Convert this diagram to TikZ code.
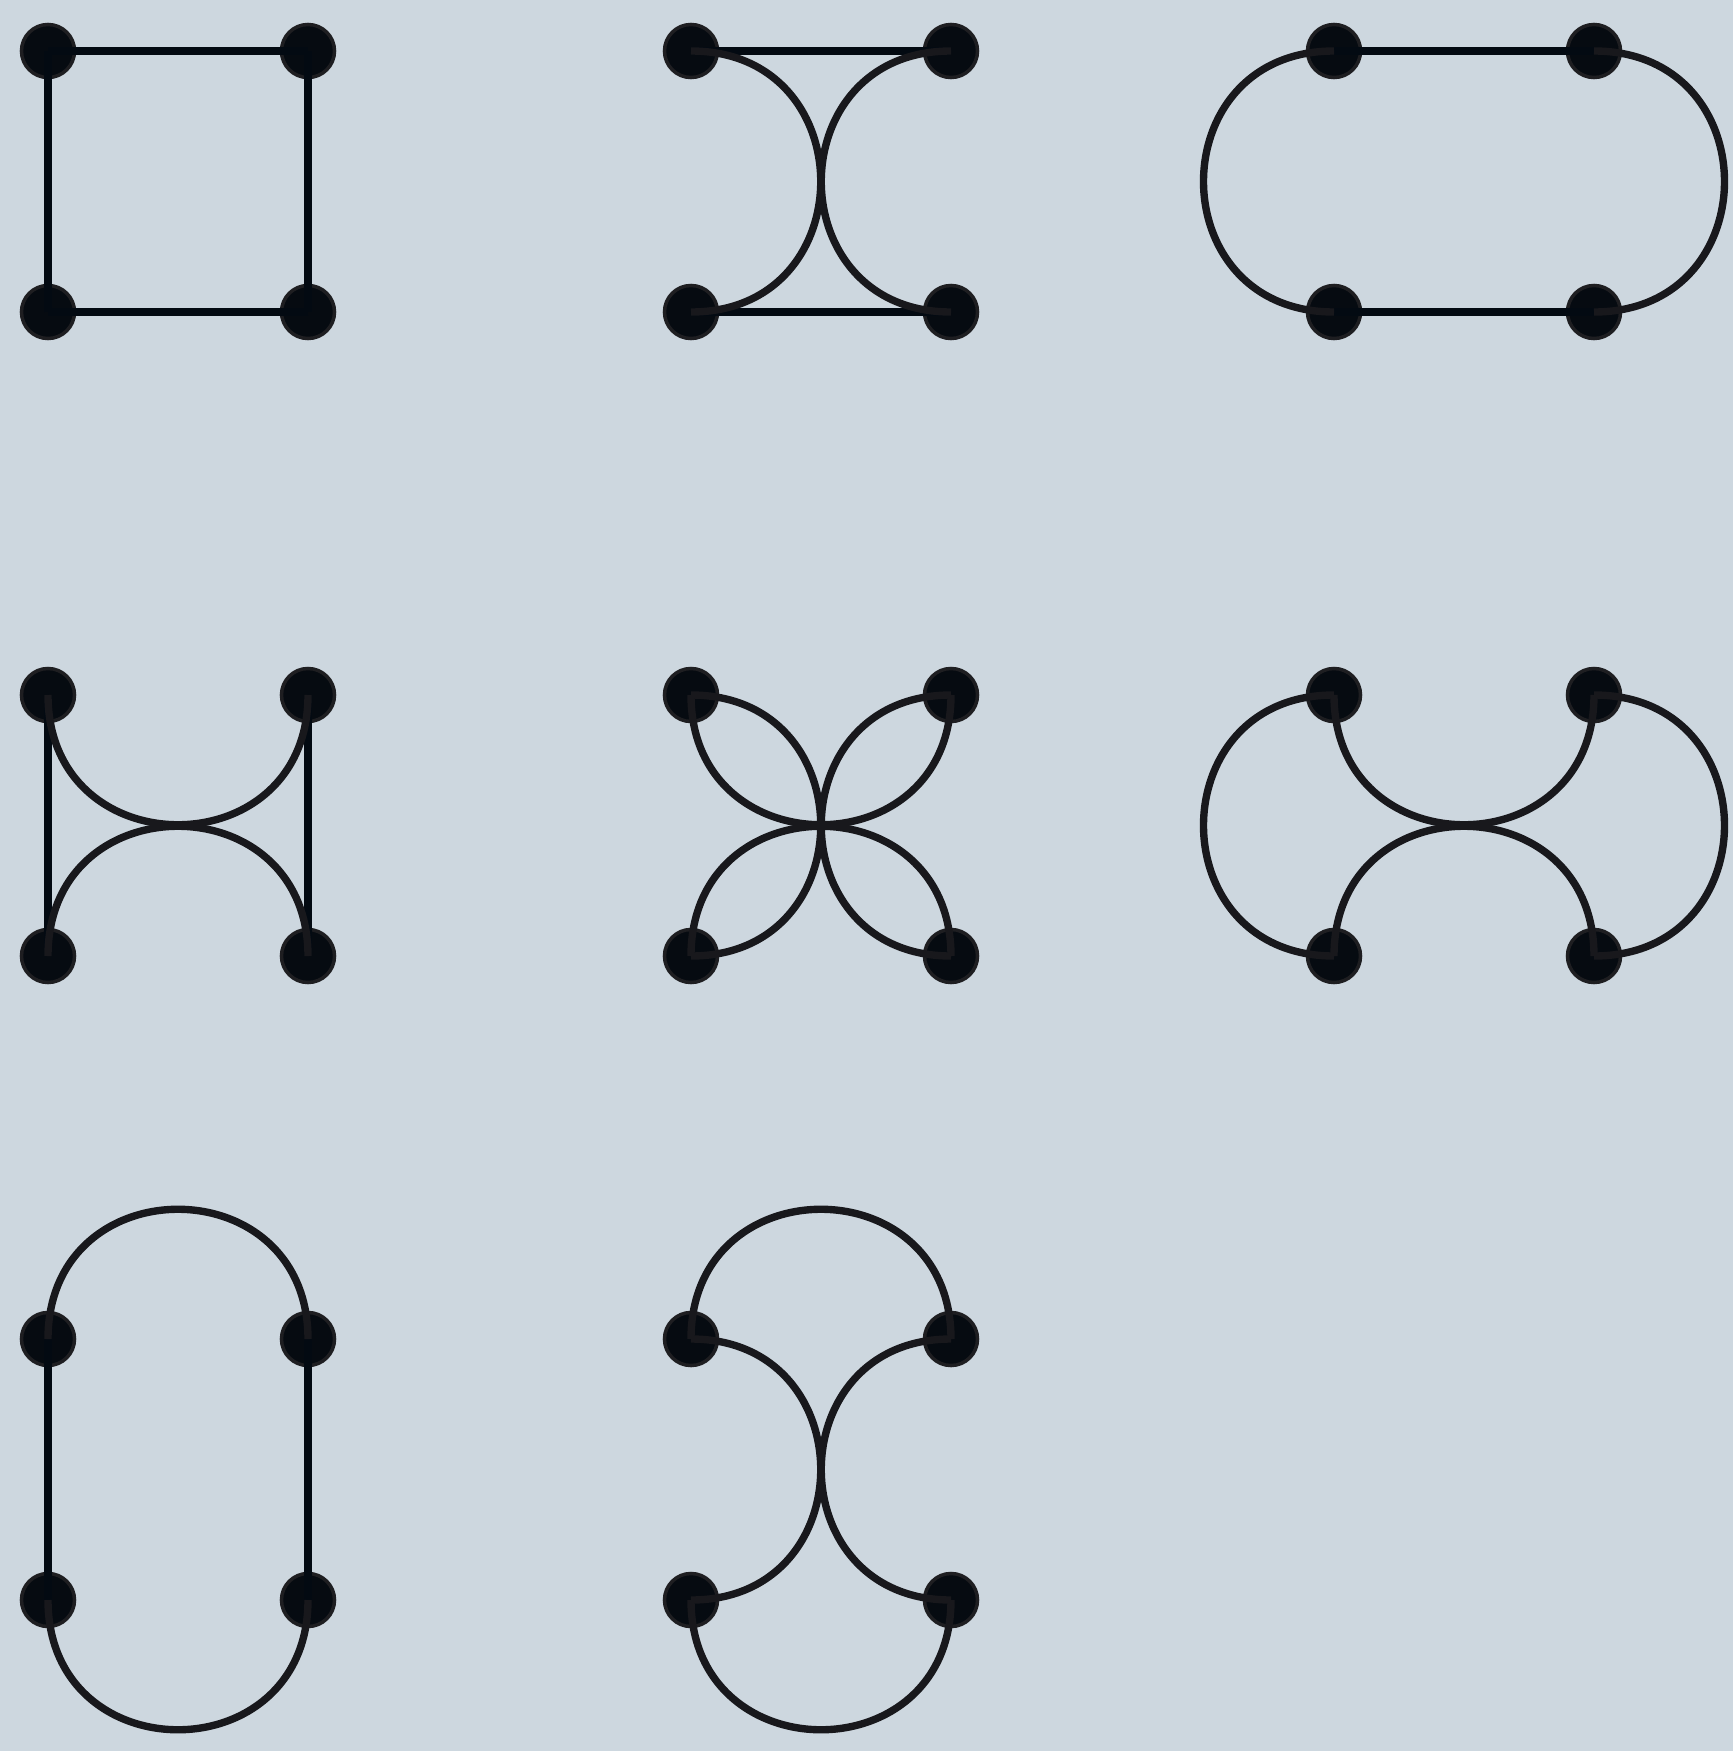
\documentclass[tikz,border=0pt]{standalone}
\definecolor{bg}{RGB}{205,215,223}
\definecolor{dotc}{RGB}{6,11,17}
\definecolor{dotrim}{RGB}{30,30,33}
\definecolor{linec}{RGB}{3,10,18}
\definecolor{curvec}{RGB}{24,24,28}
\begin{document}
\begin{tikzpicture}[x=0.01cm,y=-0.01cm,
  dot/.style={circle,fill=dotc,draw=dotrim,line width=1pt,minimum size=0.53cm,inner sep=0pt},
  edge/.style={draw=linec,line width=2.4pt},
  arcedge/.style={draw=curvec,line width=2.1pt}]
\fill[bg] (0,0) rectangle (1733,1751);
\useasboundingbox (0,0) rectangle (1733,1751);
\foreach \n/\x/\y in {1/48/51,2/691/51,3/1334/51,4/48/695,5/691/695,6/1334/695,7/48/1339,8/691/1339}{
  \node[dot] (p\n a) at (\x,\y) {};
  \node[dot] (p\n b) at (\x+260,\y) {};
  \node[dot] (p\n c) at (\x,\y+261) {};
  \node[dot] (p\n d) at (\x+260,\y+261) {};
}
% panel 1: square
\draw[edge] (p1a.center) -- (p1b.center);
\draw[edge] (p1b.center) -- (p1d.center);
\draw[edge] (p1d.center) -- (p1c.center);
\draw[edge] (p1c.center) -- (p1a.center);
% panel 2
\draw[edge] (p2a.center) -- (p2b.center);
\draw[edge] (p2c.center) -- (p2d.center);
\draw[arcedge] (p2a.center) .. controls +(173,0) and +(173,0) .. (p2c.center);
\draw[arcedge] (p2b.center) .. controls +(-173,0) and +(-173,0) .. (p2d.center);
% panel 3
\draw[edge] (p3a.center) -- (p3b.center);
\draw[edge] (p3c.center) -- (p3d.center);
\draw[arcedge] (p3a.center) .. controls +(-174,0) and +(-174,0) .. (p3c.center);
\draw[arcedge] (p3b.center) .. controls +(174,0) and +(174,0) .. (p3d.center);
% panel 4
\draw[edge] (p4a.center) -- (p4c.center);
\draw[edge] (p4b.center) -- (p4d.center);
\draw[arcedge] (p4a.center) .. controls +(0,173) and +(0,173) .. (p4b.center);
\draw[arcedge] (p4c.center) .. controls +(0,-173) and +(0,-173) .. (p4d.center);
% panel 5
\draw[arcedge] (p5a.center) .. controls +(173,0) and +(173,0) .. (p5c.center);
\draw[arcedge] (p5b.center) .. controls +(-173,0) and +(-173,0) .. (p5d.center);
\draw[arcedge] (p5a.center) .. controls +(0,173) and +(0,173) .. (p5b.center);
\draw[arcedge] (p5c.center) .. controls +(0,-173) and +(0,-173) .. (p5d.center);
% panel 6
\draw[arcedge] (p6a.center) .. controls +(-174,0) and +(-174,0) .. (p6c.center);
\draw[arcedge] (p6b.center) .. controls +(174,0) and +(174,0) .. (p6d.center);
\draw[arcedge] (p6a.center) .. controls +(0,173) and +(0,173) .. (p6b.center);
\draw[arcedge] (p6c.center) .. controls +(0,-173) and +(0,-173) .. (p6d.center);
% panel 7
\draw[edge] (p7a.center) -- (p7c.center);
\draw[edge] (p7b.center) -- (p7d.center);
\draw[arcedge] (p7a.center) .. controls +(0,-173) and +(0,-173) .. (p7b.center);
\draw[arcedge] (p7c.center) .. controls +(0,173) and +(0,173) .. (p7d.center);
% panel 8
\draw[arcedge] (p8a.center) .. controls +(0,-173) and +(0,-173) .. (p8b.center);
\draw[arcedge] (p8c.center) .. controls +(0,173) and +(0,173) .. (p8d.center);
\draw[arcedge] (p8a.center) .. controls +(173,0) and +(173,0) .. (p8c.center);
\draw[arcedge] (p8b.center) .. controls +(-173,0) and +(-173,0) .. (p8d.center);
\end{tikzpicture}
\end{document}
